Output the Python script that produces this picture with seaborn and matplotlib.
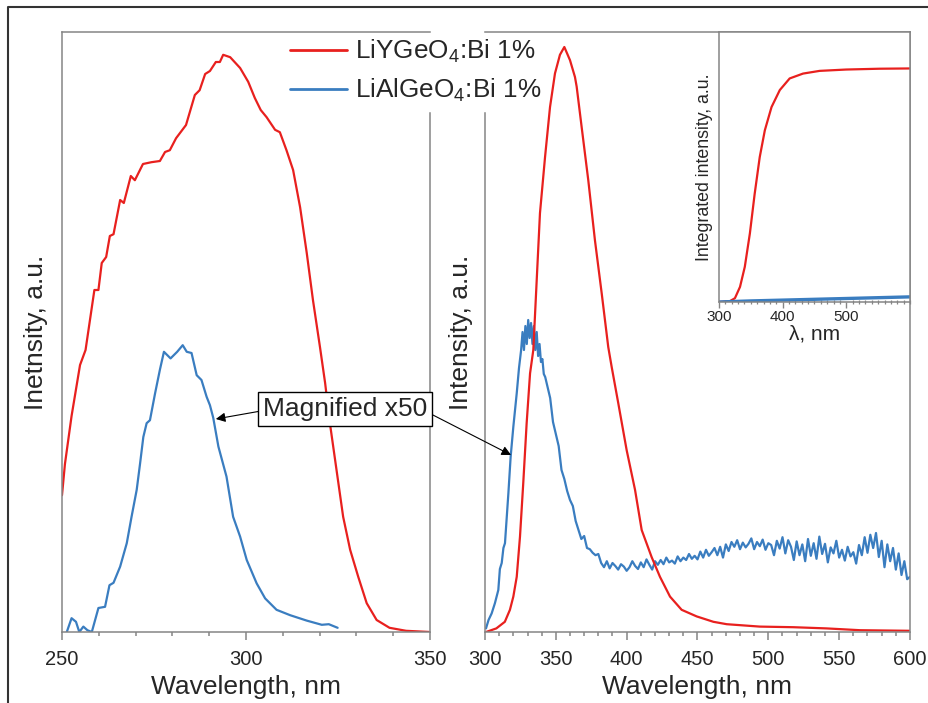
import numpy as np
import pandas as pd
import matplotlib
matplotlib.use("Agg")
import matplotlib.pyplot as plt
from matplotlib.lines import Line2D
from matplotlib.ticker import MultipleLocator, NullLocator
import seaborn as sns

# ---------------- data ----------------
# Left panel: excitation spectra (250-350 nm)
exc_red_nm = [250, 250.8, 252.6, 254.9, 256.4, 257.6, 258.8, 259.9, 260.8, 262, 263, 264,
              265.8, 266.8, 268.7, 269.8, 272, 274.3, 276.6, 278, 279.3, 281, 283.7, 286.1,
              287.4, 288.9, 290.2, 291.8, 292.9, 293.8, 295.7, 298.4, 300.6, 302.4, 304,
              305.6, 307.9, 309.2, 311, 312.8, 314.7, 316.5, 318.2, 320.1, 321.5, 322.8,
              324.6, 326.4, 328.3, 330.5, 332.8, 335.5, 339, 343.5, 350]
exc_red_val = [0.228, 0.28, 0.36, 0.445, 0.47, 0.52, 0.57, 0.57, 0.615, 0.625, 0.66, 0.663,
               0.72, 0.715, 0.76, 0.753, 0.78, 0.783, 0.785, 0.80, 0.803, 0.823, 0.845, 0.895,
               0.903, 0.93, 0.935, 0.95, 0.95, 0.962, 0.958, 0.94, 0.917, 0.89, 0.87,
               0.858, 0.837, 0.833, 0.803, 0.77, 0.708, 0.632, 0.553, 0.475, 0.415, 0.348,
               0.27, 0.192, 0.137, 0.092, 0.048, 0.02, 0.007, 0.002, 0.0]

exc_blue_nm = [251.3, 252.6, 253.8, 254.7, 255.8, 256.9, 258.1, 259.9, 261.7, 262.9, 264,
               265.8, 267.6, 268.9, 270.3, 271.2, 272.1, 273, 273.9, 275.3, 276.6, 277.7,
               279.5, 281.3, 282.8, 283.9, 285.2, 286.6, 287.9, 289.3, 290.2, 291.1, 292.5,
               294.7, 296.5, 298.4, 300.2, 302.9, 305.2, 308.3, 312, 316.5, 320.6, 322.5, 324.9]
exc_blue_val = [0.0, 0.023, 0.017, 0.0, 0.009, 0.003, 0.0, 0.04, 0.042, 0.078, 0.082,
                0.109, 0.148, 0.192, 0.237, 0.28, 0.325, 0.348, 0.353, 0.398, 0.437, 0.467,
                0.456, 0.467, 0.478, 0.467, 0.465, 0.428, 0.42, 0.392, 0.378, 0.357, 0.309,
                0.259, 0.192, 0.159, 0.12, 0.081, 0.056, 0.037, 0.028, 0.019, 0.012, 0.013, 0.007]

# Right panel: emission spectra (300-600 nm)
em_red_nm = [300.7, 308, 314, 317.6, 320, 322.4, 324.7, 327, 329.4, 331.8, 334.1, 338.8,
             342.4, 345.9, 349.4, 352.9, 356, 360, 363.5, 364.7, 368.2, 372.9, 377.6, 382.4,
             387, 389.4, 394.1, 400, 405.9, 410.6, 417.6, 423.5, 430.6, 438.8, 449.4, 461.2,
             470.6, 494, 517.6, 541, 564.7, 600]
em_red_val = [0.0, 0.006, 0.017, 0.037, 0.059, 0.092, 0.159, 0.248, 0.348, 0.431, 0.47, 0.698,
              0.792, 0.875, 0.931, 0.962, 0.975, 0.953, 0.925, 0.909, 0.842, 0.753, 0.653, 0.564,
              0.475, 0.442, 0.381, 0.303, 0.237, 0.17, 0.125, 0.092, 0.059, 0.037, 0.026, 0.017,
              0.013, 0.009, 0.008, 0.006, 0.003, 0.002]

em_blue_nm = [300.7, 302.5, 304.7, 307, 309.4, 310.5, 311.8, 313, 314.1, 316.5, 318.1, 320,
              322.4, 324, 325.5, 326.5, 327.5, 328.5, 329.5, 330.5, 331.5, 332.5, 333.5,
              334.5, 335.5, 336.5, 337.5, 338.5, 339.5, 340.5, 341.5, 342.5] + list(range(344, 601, 2))
em_blue_val = [0.006, 0.02, 0.031, 0.048, 0.07, 0.105, 0.115, 0.14, 0.148, 0.231, 0.292, 0.342,
               0.398, 0.44, 0.47, 0.50, 0.47, 0.51, 0.48, 0.52, 0.49, 0.515, 0.48,
               0.51, 0.47, 0.50, 0.46, 0.48, 0.45, 0.455, 0.43, 0.425,
               0.41, 0.39, 0.35, 0.33, 0.31, 0.27, 0.255, 0.235, 0.22, 0.21, 0.185, 0.17,
               0.155, 0.16, 0.14, 0.138, 0.132, 0.128, 0.13, 0.115, 0.108, 0.118, 0.106, 0.115,
               0.11, 0.104, 0.113, 0.109, 0.102, 0.108, 0.118, 0.11, 0.105, 0.116, 0.108, 0.121,
               0.112, 0.104, 0.118, 0.112, 0.12, 0.113, 0.124, 0.116, 0.119, 0.114, 0.126, 0.118,
               0.124, 0.12, 0.13, 0.122, 0.127, 0.121, 0.134, 0.124, 0.137, 0.127, 0.133, 0.14,
               0.128, 0.142, 0.124, 0.146, 0.135, 0.15, 0.142, 0.153, 0.138, 0.149, 0.141, 0.147,
               0.156, 0.138, 0.15, 0.143, 0.154, 0.137, 0.148, 0.145, 0.128, 0.152, 0.139, 0.158,
               0.131, 0.153, 0.142, 0.12, 0.151, 0.128, 0.146, 0.118, 0.155, 0.127, 0.148, 0.122,
               0.159, 0.13, 0.147, 0.116, 0.141, 0.131, 0.152, 0.124, 0.137, 0.119, 0.142, 0.126,
               0.133, 0.114, 0.145, 0.128, 0.158, 0.132, 0.162, 0.14, 0.165, 0.125, 0.152, 0.108,
               0.146, 0.118, 0.14, 0.104, 0.131, 0.095, 0.118, 0.088, 0.092]

# Inset: integrated intensity
int_red_nm = [300, 317, 325, 333, 340.5, 348.5, 356, 364, 372, 382.5, 395.5, 411, 432, 458, 500, 552, 600]
int_red_val = [0.0, 0.003, 0.014, 0.056, 0.13, 0.254, 0.40, 0.537, 0.636, 0.722, 0.785, 0.828,
               0.846, 0.856, 0.861, 0.864, 0.865]
int_blue_nm = [300, 350, 400, 450, 500, 550, 600]
int_blue_val = [0.0, 0.004, 0.007, 0.010, 0.013, 0.016, 0.019]

series_labels = ["LiYGeO$_4$:Bi 1%", "LiAlGeO$_4$:Bi 1%"]
RED = "#e8201e"
BLUE = "#3a7dc0"
GRAY = "#858585"

# ---------------- style ----------------
sns.set_theme(style="white")
plt.rcParams["font.family"] = ["Liberation Sans", "DejaVu Sans"]
plt.rcParams["mathtext.default"] = "regular"

W, H = 929, 703
fig = plt.figure(figsize=(W / 100, H / 100), dpi=100)

def fx(px):
    return px / W

def fy(py):
    return 1 - py / H

ax_l = fig.add_axes([fx(62), fy(632), fx(430) - fx(62), fy(32) - fy(632)])
ax_r = fig.add_axes([fx(485), fy(632), fx(910) - fx(485), fy(32) - fy(632)])
ax_i = fig.add_axes([fx(719), fy(302), fx(910) - fx(719), fy(32) - fy(302)])

lw = 1.6
sns.lineplot(x=exc_red_nm, y=exc_red_val, ax=ax_l, color=RED, lw=lw, estimator=None, sort=False)
sns.lineplot(x=exc_blue_nm, y=exc_blue_val, ax=ax_l, color=BLUE, lw=lw, estimator=None, sort=False)
sns.lineplot(x=em_blue_nm, y=em_blue_val, ax=ax_r, color=BLUE, lw=lw, estimator=None, sort=False)
sns.lineplot(x=em_red_nm, y=em_red_val, ax=ax_r, color=RED, lw=lw, estimator=None, sort=False)
sns.lineplot(x=int_red_nm, y=int_red_val, ax=ax_i, color=RED, lw=lw, estimator=None, sort=False)
sns.lineplot(x=int_blue_nm, y=int_blue_val, ax=ax_i, color=BLUE, lw=2.4, estimator=None, sort=False)

for ax, (x0, x1), maj in [(ax_l, (250, 350), 50), (ax_r, (300, 600), 50), (ax_i, (300, 600), 100)]:
    ax.set_xlim(x0, x1)
    ax.set_ylim(0, 1)
    ax.yaxis.set_major_locator(NullLocator())
    ax.xaxis.set_major_locator(MultipleLocator(maj))
    ax.xaxis.set_minor_locator(MultipleLocator(10))
    for s in ax.spines.values():
        s.set_color(GRAY)
        s.set_linewidth(1.1)
    ax.set_facecolor("white")

# spines hidden behind the legend in the reference
spine_top = (632 - 113) / 600
ax_l.spines["right"].set_bounds(0, spine_top)
ax_r.spines["left"].set_bounds(0, spine_top)

for ax in (ax_l, ax_r):
    ax.tick_params(axis="x", which="major", direction="out", length=6, width=1.1, color=GRAY,
                   labelsize=14.5, pad=7, bottom=True)
    ax.tick_params(axis="x", which="minor", direction="out", length=3, width=1.1, color=GRAY, bottom=True)
    ax.set_xlabel("Wavelength, nm", fontsize=19, labelpad=4)

ax_l.set_ylabel("Inetnsity, a.u.", fontsize=19)
ax_r.set_ylabel("Intensity, a.u.", fontsize=19)
ax_l.yaxis.set_label_coords(-0.037, 0.5)
ax_r.yaxis.set_label_coords(-0.028, 0.5)

ax_i.tick_params(axis="x", which="major", direction="out", length=4, width=1.0, color=GRAY,
                 labelsize=11, pad=2, bottom=True)
ax_i.tick_params(axis="x", which="minor", direction="inout", length=2.5, width=0.9, color=GRAY, bottom=True)
ax_i.set_xticks([300, 400, 500])
ax_i.set_xlabel("λ, nm", fontsize=15, labelpad=0)
ax_i.set_ylabel("Integrated intensity, a.u.", fontsize=12.8, labelpad=4)

# Legend
handles = [Line2D([], [], color=RED, lw=2), Line2D([], [], color=BLUE, lw=2)]
leg = fig.legend(handles, series_labels, loc="upper left", bbox_to_anchor=(fx(290), fy(38)),
                 fontsize=18.8, frameon=False, borderaxespad=0, borderpad=0,
                 handlelength=2.2, handletextpad=0.3, labelspacing=0.45)

# Annotation box with arrows
ax_l.annotate("", xy=(291.8, 0.355), xycoords="data",
              xytext=(fx(261), fy(411)), textcoords="figure fraction",
              arrowprops=dict(arrowstyle="-|>", color="black", lw=0.8, mutation_scale=14, shrinkA=0, shrinkB=0))
ax_r.annotate("", xy=(318.4, 0.295), xycoords="data",
              xytext=(fx(429), fy(413)), textcoords="figure fraction",
              arrowprops=dict(arrowstyle="-|>", color="black", lw=0.8, mutation_scale=14, shrinkA=0, shrinkB=0),
              annotation_clip=False)
fig.text(fx(345), fy(409), "Magnified x50", fontsize=19, ha="center", va="center", zorder=20,
         bbox=dict(boxstyle="square,pad=0.2", fc="white", ec="black", lw=1.0))

# Outer frame (left and top)
fig.add_artist(Line2D([fx(8), fx(8), 1.0], [0.0, fy(7), fy(7)], transform=fig.transFigure,
                      color="#333333", lw=1.5))

fig.savefig("out.png", dpi=100, facecolor="white")
